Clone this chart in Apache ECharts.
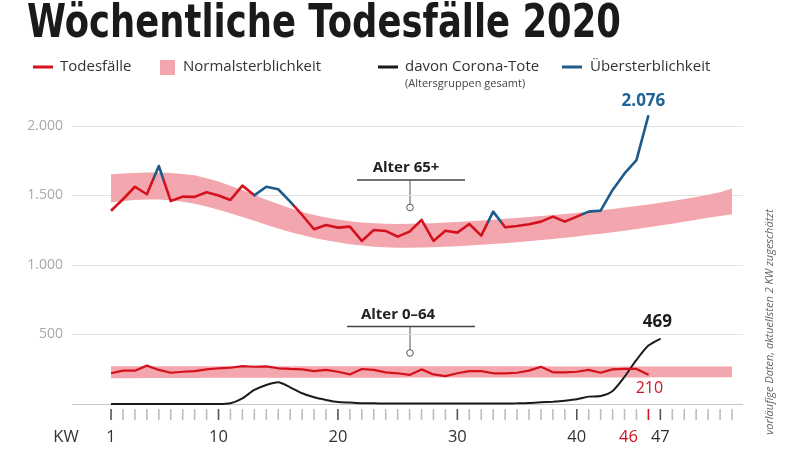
<!DOCTYPE html>
<html><head><meta charset="utf-8">
<script src="https://cdn.jsdelivr.net/npm/echarts@6/dist/echarts.min.js"></script>
<style>html,body{margin:0;padding:0;background:#fff}#c{width:800px;height:452px}</style>
</head><body><div id="c"></div>
<script>
// ---- data ----
const weeks = [1,2,3,4,5,6,7,8,9,10,11,12,13,14,15,16,17,18,19,20,21,22,23,24,25,26,27,28,29,30,31,32,33,34,35,36,37,38,39,40,41,42,43,44,45,46,47,48,49,50,51,52,53];
const deaths65 = [1390,1473,1563,1509,1712,1460,1492,1490,1523,1500,1468,1571,1501,1563,1545,1456,1360,1257,1288,1269,1276,1173,1252,1245,1204,1240,1324,1173,1247,1233,1295,1211,1384,1271,1281,1293,1312,1348,1312,1348,1384,1391,1540,1659,1755,2076];
const deaths064 = [221,240,240,276,245,225,232,237,249,257,261,273,268,271,257,252,249,237,245,232,213,252,245,228,221,209,249,213,201,221,237,237,221,221,225,240,268,228,228,232,245,225,249,252,252,210];
const corona = [0,0,0,0,0,0,0,0,0,0,5,41,101,137,156,120,77,48,29,14,10,6,5,4,4,3,3,3,3,3,3,3,3,4,5,7,12,17,24,34,53,58,94,196,317,420,469];
const band65Low = [1450,1460,1468,1472,1472,1466,1455,1440,1420,1398,1372,1345,1318,1290,1262,1238,1215,1195,1178,1163,1150,1140,1132,1127,1125,1125,1126,1128,1131,1135,1140,1145,1151,1157,1164,1171,1179,1187,1196,1205,1215,1225,1236,1247,1259,1271,1284,1297,1311,1325,1340,1352,1365];
const band65High = [1652,1658,1662,1665,1665,1662,1655,1645,1625,1600,1570,1540,1505,1470,1438,1408,1382,1360,1342,1327,1315,1306,1300,1296,1295,1296,1298,1301,1305,1310,1315,1320,1326,1332,1338,1345,1352,1359,1367,1375,1384,1393,1403,1413,1424,1436,1448,1461,1474,1490,1506,1524,1550];
const band064Low = [186,186,186,187,187,187,187,187,188,188,188,188,188,188,188,189,189,189,189,189,189,189,189,189,189,190,190,190,190,190,190,190,190,190,190,190,191,191,191,191,191,191,191,191,191,191,192,192,192,192,192,192,192];
const band064High = [272,272,272,272,272,272,272,272,272,272,272,272,272,272,272,271,271,271,271,271,271,271,271,271,271,271,271,271,271,271,271,271,271,271,271,271,271,270,270,270,270,270,270,270,270,270,270,270,270,270,270,270,270];
const labelWeeks = [1,10,20,30,40,46,47];
const labelTexts = ['1','10','20','30','40','46','47'];
const majorWeeks = [1,10,20,30,40,47];
const highlightWeek = 46;

// ---- styles ----
const RED = '#d3121d', BLUE = '#1e5b8a', PINK = '#f3a6ad', BLACK = '#1a1a1a';
const FONT = '"Open Sans", "Noto Sans", sans-serif';

function fmt(v){ return String(v).replace(/\B(?=(\d{3})+(?!\d))/g, '.'); }

function pairs(vals){ return vals.map((v,i)=>[weeks[i], v]); }
function lastLabel(vals, opts){
  const d = pairs(vals);
  const last = d[d.length-1];
  d[d.length-1] = {value: last, symbol:'circle', symbolSize:1,
    label: Object.assign({show:true, formatter: p => fmt(p.value[1]), fontFamily: FONT}, opts)};
  return d;
}

function bandSeries(low, high){
  return {
    type:'custom', z:1, silent:true, clip:false,
    data: weeks.map((w,i)=>[w, low[i], high[i]]),
    encode:{x:0, y:[1,2]},
    renderItem: function(params, api){
      if (params.dataIndex !== 0) return null;
      const pts = [];
      for (let i=0;i<weeks.length;i++) pts.push(api.coord([weeks[i], high[i]]));
      for (let i=weeks.length-1;i>=0;i--) pts.push(api.coord([weeks[i], low[i]]));
      return {type:'polygon', shape:{points:pts}, style:{fill:PINK}};
    }
  };
}

// title width measurement
const TITLE = 'Wöchentliche Todesfälle 2020';
const TITLE_FONT_SIZE = 46;
const cv = document.createElement('canvas').getContext('2d');
cv.font = 'bold ' + TITLE_FONT_SIZE + 'px "DejaVu Sans"';
const titleW = cv.measureText(TITLE).width;
const titleScale = 594 / titleW;

const chart = echarts.init(document.getElementById('c'), null, {renderer:'canvas'});
chart.setOption({
  animation:false,
  backgroundColor:'#fff',
  grid:{left:72, right:57, top:126, bottom:48, containLabel:false},
  xAxis:{type:'value', min:-2.27, max:53.92, show:false},
  yAxis:{type:'value', min:0, max:2000, interval:500,
    axisLine:{show:false}, axisTick:{show:false},
    axisLabel:{margin:9, color:'#a9a9a9', fontSize:14, fontFamily:FONT, formatter: v => v === 0 ? '' : fmt(v)},
    splitLine:{lineStyle:{color:['#c6c6c6','#e2e2e2','#e2e2e2','#e2e2e2','#e2e2e2'], width:1}}
  },
  visualMap:{type:'piecewise', show:false, seriesIndex:2, dimension:0,
    pieces:[{gt:4.6, lte:5.35, color:BLUE},{gt:12.9, lte:16.3, color:BLUE},{gt:32.6, lte:33.7, color:BLUE},{gt:40.4, color:BLUE}],
    outOfRange:{color:RED}
  },
  series:[
    bandSeries(band65Low, band65High),
    bandSeries(band064Low, band064High),
    {type:'line', name:'Todesfälle 65+', z:4, symbol:'none', clip:false,
      lineStyle:{width:2.6, join:'round'},
      data: lastLabel(deaths65, {position:'top', distance:5, offset:[-5,0], color:'#1f6494', fontSize:17, fontWeight:'bold'})},
    {type:'line', name:'Todesfälle 0-64', z:4, symbol:'none', clip:false,
      lineStyle:{width:2.2, color:RED}, itemStyle:{color:RED},
      data: lastLabel(deaths064, {position:'bottom', distance:5, offset:[1,0], color:RED, fontSize:16})},
    {type:'line', name:'davon Corona-Tote', z:3, symbol:'none', clip:false, smooth:0.25,
      lineStyle:{width:2, color:BLACK}, itemStyle:{color:BLACK},
      data: lastLabel(corona, {position:'top', distance:8, offset:[-3,0], color:BLACK, fontSize:17, fontWeight:'bold'})},
    {type:'custom', z:2, silent:true, clip:false,
      data: weeks.map(w=>[w,0]),
      renderItem: function(params, api){
        const w = api.value(0);
        const p = api.coord([w, 0]);
        let col = '#bdbdbd';
        if (majorWeeks.indexOf(w) >= 0) col = '#555';
        if (w === highlightWeek) col = RED;
        return {type:'line', shape:{x1:p[0], y1:p[1]+5, x2:p[0], y2:p[1]+16}, style:{stroke:col, lineWidth:1.6}};
      }},
    {type:'custom', z:2, silent:true, clip:false,
      data: labelWeeks.map(w=>[w,0]),
      renderItem: function(params, api){
        const w = api.value(0);
        const p = api.coord([w, 0]);
        const isHi = w === highlightWeek;
        return {type:'text', x: p[0] + (isHi ? -20 : 0), y: p[1] + 33,
          style:{text: labelTexts[params.dataIndex], fill: isHi ? RED : '#333', fontSize:16.5, fontFamily:FONT, align:'center', verticalAlign:'middle'}};
      }}
  ],
  graphic:[
    {type:'text', x:27, y:2, scaleX:titleScale, scaleY:1,
      style:{text:TITLE, fill:'#1a1a1a', font:'bold '+TITLE_FONT_SIZE+'px "DejaVu Sans"', verticalAlign:'top'}},
    // legend
    {type:'line', shape:{x1:33,y1:67,x2:53,y2:67}, style:{stroke:RED, lineWidth:3}},
    {type:'text', x:60, y:67, style:{text:'Todesfälle', fill:'#333', font:'15px '+FONT, verticalAlign:'middle'}},
    {type:'rect', shape:{x:160,y:60,width:15,height:15}, style:{fill:PINK}},
    {type:'text', x:183, y:67, style:{text:'Normalsterblichkeit', fill:'#333', font:'15px '+FONT, verticalAlign:'middle'}},
    {type:'line', shape:{x1:378,y1:67,x2:398,y2:67}, style:{stroke:BLACK, lineWidth:3}},
    {type:'text', x:405, y:67, style:{text:'davon Corona-Tote', fill:'#333', font:'15px '+FONT, verticalAlign:'middle'}},
    {type:'text', x:405, y:84, style:{text:'(Altersgruppen gesamt)', fill:'#444', font:'11px '+FONT, verticalAlign:'middle'}},
    {type:'line', shape:{x1:562,y1:67,x2:582,y2:67}, style:{stroke:BLUE, lineWidth:3}},
    {type:'text', x:590, y:67, style:{text:'Übersterblichkeit', fill:'#333', font:'15px '+FONT, verticalAlign:'middle'}},
    // annotations
    {type:'text', x:406, y:168, style:{text:'Alter 65+', fill:'#222', font:'bold 15px '+FONT, align:'center', verticalAlign:'middle'}},
    {type:'line', shape:{x1:357,y1:180,x2:465,y2:180}, style:{stroke:'#444', lineWidth:1.3}},
    {type:'line', shape:{x1:410,y1:180,x2:410,y2:204}, style:{stroke:'#555', lineWidth:1}},
    {type:'circle', shape:{cx:410,cy:207.5,r:3.3}, style:{fill:'#fff', stroke:'#555', lineWidth:1}},
    {type:'text', x:398, y:315, style:{text:'Alter 0–64', fill:'#222', font:'bold 15px '+FONT, align:'center', verticalAlign:'middle'}},
    {type:'line', shape:{x1:347,y1:326.5,x2:475,y2:326.5}, style:{stroke:'#444', lineWidth:1.3}},
    {type:'line', shape:{x1:410,y1:326.5,x2:410,y2:350}, style:{stroke:'#555', lineWidth:1}},
    {type:'circle', shape:{cx:410,cy:353,r:3.3}, style:{fill:'#fff', stroke:'#555', lineWidth:1}},
    // axis caption
    {type:'text', x:66, y:437, style:{text:'KW', fill:'#333', font:'16.5px '+FONT, align:'center', verticalAlign:'middle'}},
    // footnote
    {type:'text', x:770, y:322, rotation:Math.PI/2,
      style:{text:'vorläufige Daten, aktuellsten 2 KW zugeschätzt', fill:'#666', font:'italic 11px '+FONT, align:'center', verticalAlign:'middle'}}
  ]
});
</script>
</body></html>
